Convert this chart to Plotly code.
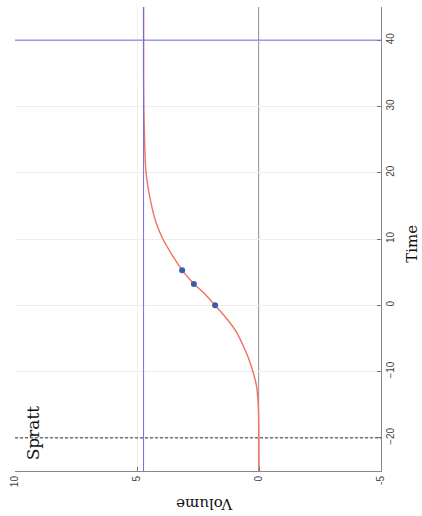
import plotly.graph_objects as go

# Fitted growth curve (time, volume)
curve_time = [-25, -20, -15, -12, -10, -8, -6, -4, -2, 0, 2, 3.2, 5.3, 7, 10, 12.5, 15, 20, 25, 30, 35, 45]
curve_volume = [0.0, 0.005, 0.03, 0.11, 0.25, 0.43, 0.66, 0.93, 1.33, 1.80, 2.30, 2.67, 3.15, 3.46, 3.94, 4.22, 4.40, 4.63, 4.69, 4.72, 4.73, 4.73]

# Observed measurements
obs_time = [0, 3.2, 5.3]
obs_volume = [1.80, 2.67, 3.15]

# Reference levels
plateau_volume = 4.73
start_time = -20
horizon_time = 40

volume_ticks = [10, 5, 0, -5]
time_ticks = [-20, -10, 0, 10, 20, 30, 40]

fig = go.Figure()

fig.add_trace(go.Scatter(
    x=curve_volume, y=curve_time, mode="lines",
    line=dict(color="#f2705e", width=1.4, shape="spline", smoothing=0.8),
    hoverinfo="skip", showlegend=False,
))
fig.add_trace(go.Scatter(
    x=obs_volume, y=obs_time, mode="markers",
    marker=dict(color="#3a5ca8", size=6),
    showlegend=False,
))

# Zero-volume line
fig.add_shape(type="line", xref="x", yref="paper", x0=0, x1=0, y0=0, y1=1,
              line=dict(color="#6c6678", width=1.3), layer="below")
# Plateau level
fig.add_shape(type="line", xref="x", yref="paper", x0=plateau_volume, x1=plateau_volume, y0=0, y1=1,
              line=dict(color="#6a6ee0", width=1))
# Horizon time
fig.add_shape(type="line", xref="paper", yref="y", x0=0, x1=1, y0=horizon_time, y1=horizon_time,
              line=dict(color="#6a6ee0", width=1))
# Start time
fig.add_shape(type="line", xref="paper", yref="y", x0=0, x1=1, y0=start_time, y1=start_time,
              line=dict(color="#333333", width=1, dash="3px,2px"))

serif = "DejaVu Serif, Liberation Serif, serif"
sans = "Liberation Sans, Arial, sans-serif"

fig.add_annotation(text="Spratt", xref="x", yref="y", x=9.27, y=-19.2,
                   textangle=-90, showarrow=False,
                   font=dict(family=serif, size=17, color="#111111"))
fig.add_annotation(text="Volume", xref="paper", yref="paper", x=0.518, y=-0.07,
                   textangle=180, showarrow=False, yanchor="middle",
                   font=dict(family=serif, size=15, color="#111111"))
fig.add_annotation(text="Time", xref="paper", yref="paper", x=1.085, y=0.49,
                   textangle=-90, showarrow=False, xanchor="center",
                   font=dict(family=serif, size=15, color="#111111"))

fig.update_xaxes(
    range=[10, -5], tickvals=volume_ticks, ticktext=[str(v) for v in volume_ticks],
    tickangle=-90, ticks="inside", ticklen=4, tickcolor="#777777",
    showline=True, linecolor="#888888", linewidth=1, mirror=False,
    showgrid=True, gridcolor="#eeeeee", gridwidth=1, zeroline=False,
    tickfont=dict(family=sans, size=10, color="#444444"),
)
fig.update_yaxes(
    range=[-25, 45], side="right", tickvals=time_ticks,
    tickangle=-90, ticks="inside", ticklen=4, tickcolor="#777777",
    showline=True, linecolor="#888888", linewidth=1, mirror=False,
    showgrid=True, gridcolor="#eeeeee", gridwidth=1, zeroline=False,
    tickfont=dict(family=sans, size=10, color="#444444"),
)

fig.update_layout(
    width=422, height=516,
    margin=dict(l=15, r=41, t=7, b=45),
    paper_bgcolor="white", plot_bgcolor="white",
    showlegend=False,
)

fig.write_html("out.html")
